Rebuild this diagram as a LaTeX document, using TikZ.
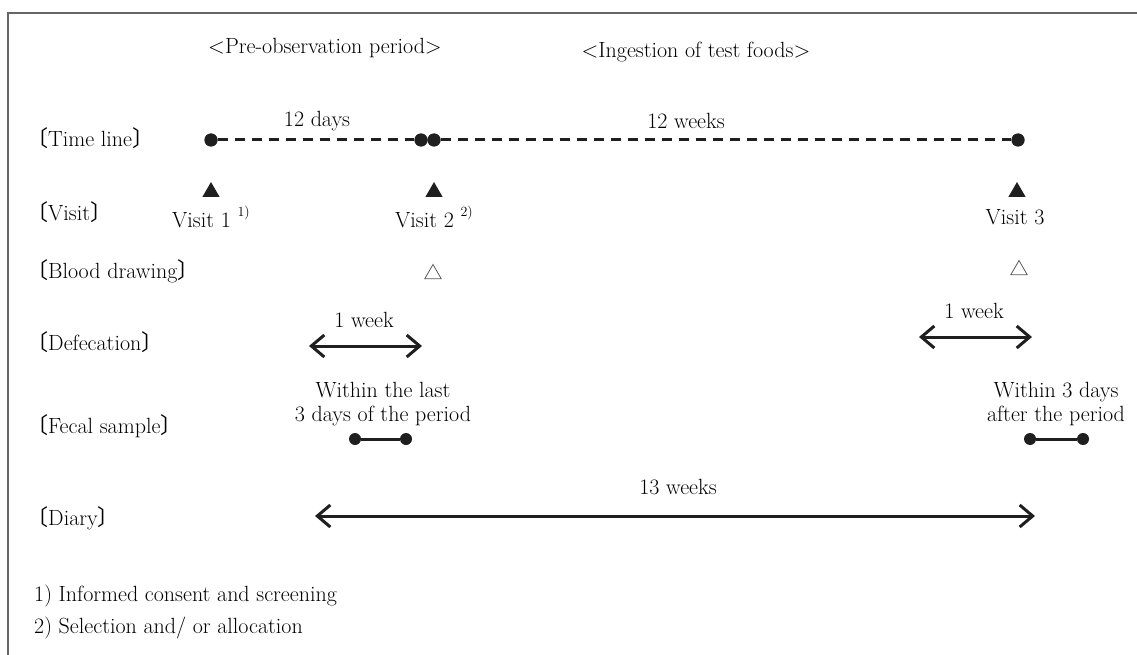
\documentclass[tikz,border=0pt]{standalone}
\usepackage{fontspec}
\newfontfamily\cjk{Noto Sans CJK JP}
\usetikzlibrary{arrows.meta,positioning,shapes.geometric}

\newcommand{\rowlab}[1]{{\cjk 〔}#1{\cjk 〕}}
\newcommand{\fnmark}[1]{\ \raisebox{0.5em}{\fontsize{14}{14}\selectfont #1}}

\begin{document}
\begin{tikzpicture}[
    x=1pt, y=-1pt,
    font=\fontsize{22}{24}\selectfont,
    rowlabel/.style={anchor=west, inner sep=0pt},
    plain/.style={inner sep=0pt},
    dot/.style={circle, fill=black!88, minimum size=13pt, inner sep=0pt},
    smalldot/.style={circle, fill=black!88, minimum size=12pt, inner sep=0pt},
    visitmark/.style={regular polygon, regular polygon sides=3, fill=black!88, minimum size=20pt, inner sep=0pt},
    bloodmark/.style={regular polygon, regular polygon sides=3, draw=black!65, line width=0.8pt, minimum size=19pt, inner sep=0pt},
    timeline/.style={dashed, dash pattern=on 10pt off 7pt, line width=3pt, black!88},
    span/.style={{Straight Barb[length=13pt,width=22pt]}-{Straight Barb[length=13pt,width=22pt]}, line width=3pt, black!88},
    bar/.style={line width=3pt, black!88}
]
\useasboundingbox (0,0) rectangle (1137,655);

% frame
\draw[black!60, line width=1.5pt] (8,655) -- (8,13) -- (1137,13);

% period headings
\node[plain] (pre) at (325,48) {<Pre-observation period>};
\node[plain] (ing) at (696,52) {<Ingestion of test foods>};

% row labels
\node[rowlabel] (lt) at (26,138) {\rowlab{Time line}};
\node[rowlabel] (lv) at (26,212) {\rowlab{Visit}};
\node[rowlabel] (lb) at (26,271) {\rowlab{Blood drawing}};
\node[rowlabel] (ld) at (26,342) {\rowlab{Defecation}};
\node[rowlabel] (lf) at (26,426) {\rowlab{Fecal sample}};
\node[rowlabel] (ly) at (26,518) {\rowlab{Diary}};

% time line
\node[dot] (t1) at (211,140) {};
\node[dot] (t2a) at (421,140) {};
\node[dot] (t2b) at (434,140) {};
\node[dot] (t3) at (1018,140) {};
\draw[timeline] (t1) -- (t2a);
\draw[timeline] (t2b) -- (t3);
\node[dot] at (t1) {};
\node[dot] at (t2a) {};
\node[dot] at (t2b) {};
\node[dot] at (t3) {};
\node[plain] (days) at (317,121) {12 days};
\node[plain] (weeks) at (686,121) {12 weeks};

% visits
\node[visitmark] (v1) at (211,192) {};
\node[visitmark] (v2) at (434,192) {};
\node[visitmark] (v3) at (1017,192) {};
\node[plain] (vt1) at (211,217) {Visit 1\fnmark{1)}};
\node[plain] (vt2) at (434,217) {Visit 2\fnmark{2)}};
\node[plain] (vt3) at (1015,217) {Visit 3};

% blood drawing
\node[bloodmark] (b2) at (433,274) {};
\node[bloodmark] (b3) at (1019,270) {};

% defecation
\coordinate (d1s) at (309,346);
\coordinate (d1e) at (422,346);
\coordinate (d2s) at (919,337);
\coordinate (d2e) at (1032,337);
\draw[span] (d1s) -- (d1e);
\draw[span] (d2s) -- (d2e);
\node[plain] (w1) at (364,320) {1 week};
\node[plain] (w2) at (974,311) {1 week};

% fecal sample
\node[smalldot] (f1a) at (355,439) {};
\node[smalldot] (f1b) at (406,439) {};
\node[smalldot] (f2a) at (1030,439) {};
\node[smalldot] (f2b) at (1083,439) {};
\draw[bar] (f1a) -- (f1b);
\draw[bar] (f2a) -- (f2b);
\node[plain, align=center] (s1) at (383,404) {Within the last\\3 days of the period};
\node[plain, align=center] (s2) at (1056,404) {Within 3 days\\after the period};

% diary
\coordinate (ys) at (315,516);
\coordinate (ye) at (1035,516);
\draw[span] (ys) -- (ye);
\node[plain] (y13) at (678,487) {13 weeks};

% footnotes
\node[rowlabel] (n1) at (34,596) {1) Informed consent and screening};
\node[rowlabel] (n2) at (34,628) {2) Selection and/ or allocation};

\end{tikzpicture}
\end{document}
